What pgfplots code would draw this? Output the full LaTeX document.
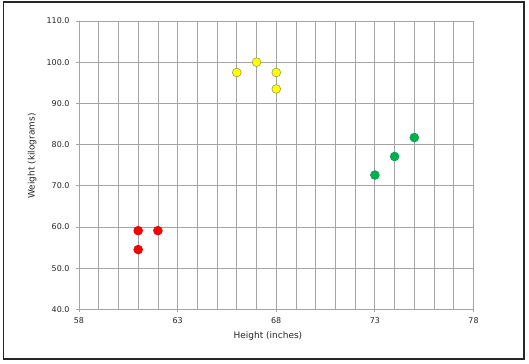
\documentclass[border=0pt]{standalone}
\usepackage{fontspec}
\setmainfont{DejaVu Sans}
\usepackage{pgfplots}
\pgfplotsset{compat=1.18}
\definecolor{gridc}{HTML}{A4A4A4}
\definecolor{ylw}{HTML}{FFFF00}
\definecolor{ylwd}{HTML}{9AA040}
\definecolor{rd}{HTML}{FF0000}
\definecolor{rdd}{HTML}{E00000}
\definecolor{gr}{HTML}{00B050}
\definecolor{grd}{HTML}{00A048}
\begin{document}
\begin{tikzpicture}
\useasboundingbox (0,0) rectangle (529bp,364bp);
\fill[white] (0,0) rectangle (529bp,364bp);
\draw[black!85, line width=1.8bp] (3.5bp,5bp) rectangle (524bp,362bp);
\begin{axis}[
  scale only axis, width=394.5bp, height=288.3bp,
  at={(79bp,54.7bp)}, anchor=south west,
  xmin=58, xmax=78, ymin=40, ymax=110,
  xtick={58,63,68,73,78},
  minor xtick={59,60,61,62,64,65,66,67,69,70,71,72,74,75,76,77},
  ytick={40,50,60,70,80,90,100,110},
  grid=both,
  major grid style={gridc, line width=0.8bp},
  minor grid style={gridc, line width=0.8bp},
  axis line style={gridc, line width=0.8bp},
  tick pos=left, tick align=outside,
  major tick length=3bp, minor tick length=0pt,
  tick style={gridc, line width=0.8bp},
  /pgf/number format/assume math mode=true,
  yticklabel={\pgfmathprintnumber[fixed,fixed zerofill,precision=1]{\tick}},
  tick label style={font=\fontsize{8}{9}\selectfont, text=black!85},
  xticklabel style={yshift=-2bp},
  yticklabel style={xshift=-3bp},
  xlabel={Height (inches)},
  ylabel={Weight (kilograms)},
  label style={font=\fontsize{9}{10}\selectfont, text=black!85},
  xlabel style={at={(axis description cs:0.479,-0.0926)}, anchor=center},
  ylabel style={at={(axis description cs:-0.119,0.532)}, anchor=center},
  clip=false,
]
\addplot[only marks, mark=*, mark size=4.4bp, mark options={fill=ylw, draw=ylwd, line width=0.6bp}]
  coordinates {(66,97.5) (67,100) (68,97.5) (68,93.5)};
\addplot[only marks, mark=*, mark size=4.4bp, mark options={fill=gr, draw=grd, line width=0.6bp}]
  coordinates {(73,72.6) (74,77.1) (75,81.7)};
\addplot[only marks, mark=*, mark size=4.4bp, mark options={fill=rd, draw=rdd, line width=0.6bp}]
  coordinates {(61,59.1) (62,59.1) (61,54.5)};
\end{axis}
\end{tikzpicture}
\end{document}
